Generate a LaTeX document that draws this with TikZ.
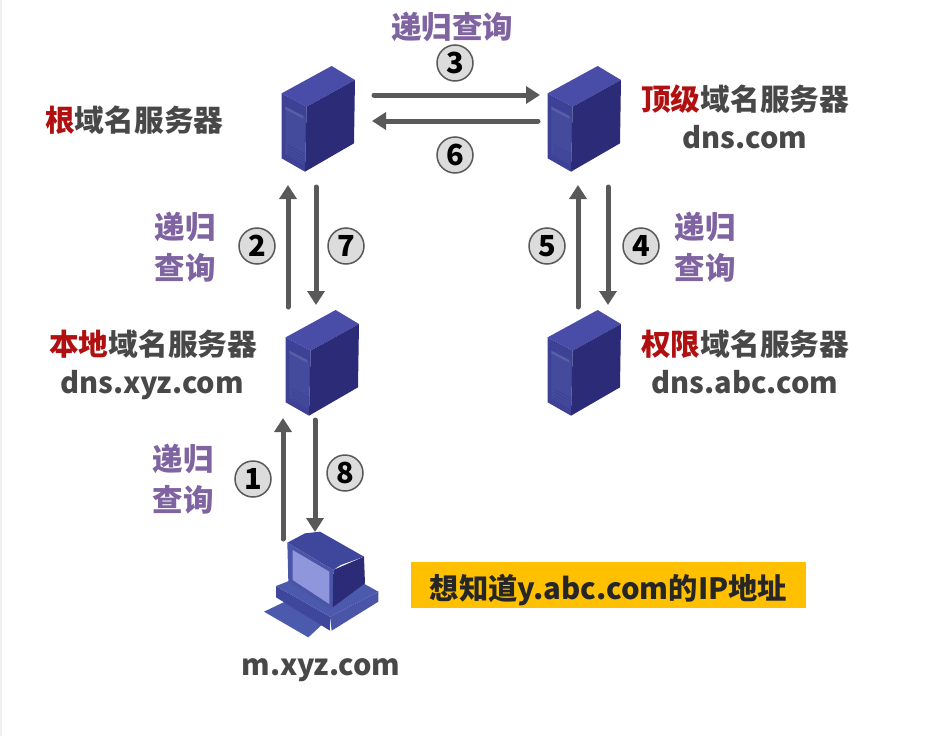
\documentclass[tikz,border=0pt]{standalone}
\usepackage{fontspec}
\setmainfont{Noto Sans CJK SC}
\usetikzlibrary{arrows.meta}
\definecolor{txtdark}{HTML}{484848}
\definecolor{txtred}{HTML}{B01010}
\definecolor{txtpur}{HTML}{8064A2}
\definecolor{arrgray}{HTML}{595959}
\definecolor{circfill}{HTML}{DCDCDC}
\definecolor{boxyel}{HTML}{FFC000}
\definecolor{stop}{HTML}{494DA8}
\definecolor{sleft}{HTML}{3D4296}
\definecolor{sright}{HTML}{2C2B78}
\definecolor{sbay}{HTML}{444A9C}
\definecolor{ctop}{HTML}{3F479C}
\definecolor{cmid}{HTML}{4A55A8}
\definecolor{cscreen}{HTML}{8F96DC}
\definecolor{clight}{HTML}{4C5AAD}
\tikzset{
  holder/.style={inner sep=0pt,outer sep=0pt,minimum width=74pt,minimum height=106pt},
  pcholder/.style={inner sep=0pt,outer sep=0pt,minimum width=116pt,minimum height=108pt},
  lab/.style={font=\fontsize{29.7}{36}\selectfont\bfseries,text=txtdark,inner sep=0pt,anchor=base},
  dnslab/.style={font=\fontsize{29}{36}\selectfont\bfseries,text=txtdark,inner sep=0pt,anchor=base},
  purlab/.style={font=\fontsize{30.5}{41}\selectfont\bfseries,text=txtpur,inner sep=0pt,align=center},
  num/.style={circle,draw=black!65,line width=1.5pt,fill=circfill,minimum size=36pt,inner sep=0pt,font=\fontsize{29}{30}\selectfont\bfseries,text=black},
  arr/.style={draw=arrgray,line width=5pt,line cap=round,-{Triangle[width=17pt,length=14pt]}},
  note/.style={fill=boxyel,minimum width=395pt,minimum height=46pt,inner sep=0pt,text height=30pt,text depth=2pt,font=\fontsize{29.3}{30}\selectfont\bfseries,text=black!85}
}
\newcommand{\serverat}[1]{%
  \begin{scope}[shift={(#1.north west)},x=0.3333pt,y=-0.3333pt,xshift=-22pt,yshift=16pt]
    \fill[stop] (65,130)--(215,48)--(285,90)--(140,170)--cycle;
    \fill[sleft] (65,130)--(140,170)--(135,365)--(65,325)--cycle;
    \fill[sright] (140,170)--(285,90)--(282,280)--(135,365)--cycle;
    \fill[sbay] (76,170)--(136,202)--(134,345)--(76,312)--cycle;
    \fill[sleft!85!white] (76,170)--(130,198)--(130,206)--(76,178)--cycle;
    \foreach \k in {0,9,...,36}{\draw[sleft,line width=.7pt] (84,285+\k)--(136,313+\k);}
  \end{scope}}
\newcommand{\pcat}[1]{%
  \begin{scope}[shift={(#1.north west)},x=0.3333pt,y=-0.3333pt,xshift=-14pt,yshift=10pt]
    \fill[clight] (42,275)--(105,245)--(218,312)--(175,352)--cycle;
    \fill[ctop] (78,198)--(240,290)--(240,332)--(78,232)--cycle;
    \fill[cmid] (240,290)--(385,215)--(385,245)--(245,332)--cycle;
    \fill[clight] (78,198)--(130,178)--(340,190)--(385,215)--(240,290)--cycle;
    \fill[ctop] (112,68)--(165,40)--(210,35)--(342,110)--(272,135)--(250,150)--cycle;
    \fill[cmid] (112,68)--(250,150)--(245,270)--(115,185)--cycle;
    \fill[cscreen] (128,90)--(238,155)--(238,252)--(128,180)--cycle;
    \fill[sright] (250,150)--(342,110)--(345,190)--(248,262)--cycle;
  \end{scope}}
\begin{document}
\begin{tikzpicture}[x=1pt,y=-1pt]
\useasboundingbox (0,0) rectangle (945,736);
\fill[white] (0,0) rectangle (945,736);
\fill[black!6] (0,0) rectangle (1.5,736);
% holders
\node[holder] (root) at (319,119) {};
\node[holder] (tld) at (585,119) {};
\node[holder] (local) at (323,363) {};
\node[holder] (auth) at (585,363) {};
\node[pcholder] (pc) at (322,584) {};
\serverat{root}\serverat{tld}\serverat{local}\serverat{auth}\pcat{pc}
% labels
\node[lab,anchor=base west] (lroot) at (45,131) {\textcolor{txtred}{根}域名服务器};
\node[lab,anchor=base west] (ltld) at (641,110) {\textcolor{txtred}{顶级}域名服务器};
\node[dnslab] (dtld) at (745,148) {dns.com};
\node[lab,anchor=base west] (llocal) at (49,355) {\textcolor{txtred}{本地}域名服务器};
\node[dnslab] (dlocal) at (152,393) {dns.xyz.com};
\node[lab,anchor=base west] (lauth) at (641,355) {\textcolor{txtred}{权限}域名服务器};
\node[dnslab] (dauth) at (745,393) {dns.abc.com};
\node[dnslab] (dpc) at (321,675) {m.xyz.com};
\node[purlab] (q3) at (452,27) {递归查询};
\node[purlab] (q2) at (185,247) {递归\\查询};
\node[purlab] (q4) at (705,247) {递归\\查询};
\node[purlab] (q1) at (183,479) {递归\\查询};
\node[note] (want) at (608.5,585) {想知道y.abc.com的IP地址};
% connectors
\draw[arr] ([xshift=18pt,yshift=24pt]root.east) -- ([xshift=-8pt,yshift=24pt]tld.west);
\draw[arr] ([xshift=-10pt,yshift=-2pt]tld.west) -- ([xshift=16pt,yshift=-2pt]root.east);
\draw[arr] ([xshift=-35pt,yshift=3pt]local.north) -- ([xshift=-31pt,yshift=-13pt]root.south);
\draw[arr] ([xshift=-3pt,yshift=-15pt]root.south) -- ([xshift=-7pt,yshift=5pt]local.north);
\draw[arr] ([xshift=-7pt,yshift=3pt]auth.north) -- ([xshift=-7pt,yshift=-13pt]tld.south);
\draw[arr] ([xshift=23pt,yshift=-15pt]tld.south) -- ([xshift=23pt,yshift=5pt]auth.north);
\draw[arr] ([xshift=-39pt,yshift=-9pt]pc.north) -- ([xshift=-40pt,yshift=-2pt]local.south);
\draw[arr] ([xshift=-8pt,yshift=-4pt]local.south) -- ([xshift=-7pt,yshift=-2pt]pc.north);
% numbers
\node[num] (n3) at (455,63) {3};
\node[num] (n6) at (455,155) {6};
\node[num] (n2) at (257,246) {2};
\node[num] (n7) at (346,246) {7};
\node[num] (n5) at (547,246) {5};
\node[num] (n4) at (641,246) {4};
\node[num] (n1) at (253,479) {1};
\node[num] (n8) at (345,473) {8};
\end{tikzpicture}
\end{document}
